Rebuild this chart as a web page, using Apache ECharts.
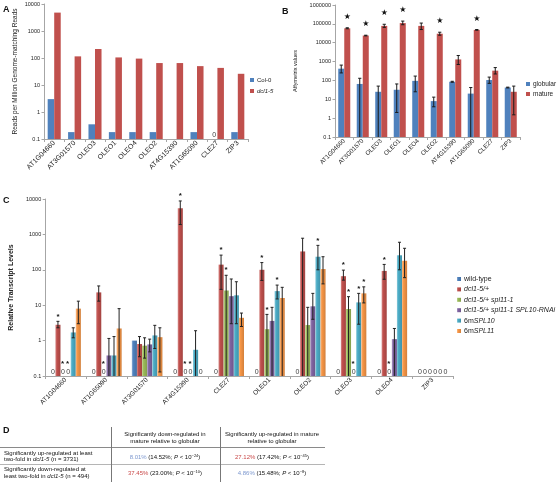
<!DOCTYPE html>
<html><head><meta charset="utf-8">
<script src="https://cdn.jsdelivr.net/npm/echarts@6/dist/echarts.min.js"></script>
<style>html,body{margin:0;padding:0;background:#fff}#c{width:558px;height:487px}</style>
</head><body><div id="c"></div>
<script>
// ---------- Panel A ----------
const catsA = ['AT1G04660','AT3G01570','OLEO3','OLEO1','OLEO4','OLEO2','AT4G15390','AT1G65090','CLE27','ZIP3'];
const col0A = [3, 0.18, 0.35, 0.18, 0.18, 0.18, null, 0.18, 0, 0.18];
const dcl15A = [4800, 115, 215, 105, 95, 65, 65, 50, 43, 26];
const ticksA = [0.1, 1, 10, 100, 1000, 10000];

// ---------- Panel B ----------
const catsB = ['AT1G04660','AT3G01570','OLEO3','OLEO1','OLEO4','OLEO2','AT4G15390','AT1G65090','CLE27','ZIP3'];
const globB   = [420, 65, 25, 32, 95, 8, 85, 20, 105, 42];
const globLoB = [250, 0.1, 0.1, 2, 25, 4, 80, 0.1, 70, 40];
const globHiB = [650, 130, 50, 65, 170, 13, 90, 42, 150, 44];
const matB    = [58000, 24000, 78000, 110000, 78000, 30000, 1300, 48000, 330, 25];
const matLoB  = [55000, 23000, 65000, 90000, 50000, 25000, 700, 46000, 220, 1.5];
const matHiB  = [62000, 25000, 95000, 140000, 110000, 36000, 2100, 50000, 480, 50];
const matStarB = [1, 1, 1, 1, 0, 1, 0, 1, 0, 0];
const ticksB = [0.1, 1, 10, 100, 1000, 10000, 100000, 1000000];

// ---------- Panel C ----------
const catsC = ['AT1G04660','AT1G65090','AT3G01570','AT4G15390','CLE27','OLEO1','OLEO2','OLEO3','OLEO4','ZIP3'];
const namesC = ['wild-type','dcl1-5/+','dcl1-5/+ spl11-1','dcl1-5/+ spl11-1 SPL10-RNAi','6mSPL10','6mSPL11'];
const wtC      = [0, 0, 1.0, 0, 0, 0, 0, 0, 0, 0];
const wtLoC    = [null, null, null, null, null, null, null, null, null, null];
const wtHiC    = [null, null, null, null, null, null, null, null, null, null];
const wtStarC  = [0, 0, 0, 0, 0, 0, 0, 0, 0, 0];
const dclC     = [2.8, 23, 0.8, 5500, 140, 100, 330, 66, 93, 0];
const dclLoC   = [2.3, 13, 0.35, 1900, 28, 50, 0.1, 51, 54, null];
const dclHiC   = [3.5, 35, 1.3, 8800, 260, 160, 780, 98, 142, null];
const dclStarC = [1, 0, 0, 1, 1, 1, 0, 1, 1, 0];
const splC     = [0, 0, 0.72, 0, 26, 2.1, 2.75, 7.8, 0, 0];
const splLoC   = [null, null, 0.32, null, 0.1, 0.1, 0.1, 0.1, null, null];
const splHiC   = [null, null, 1.2, null, 70, 5.5, 8.7, 17.4, null, null];
const splStarC = [1, 1, 0, 1, 1, 1, 0, 1, 1, 0];
const rnaiC     = [0, 0.38, 0.78, 0, 18, 3.6, 9.3, 0, 1.1, 0];
const rnaiLoC   = [null, 0.1, 0.48, null, 3, 0.1, 4, null, 0.1, null];
const rnaiHiC   = [null, 1.15, 1.1, null, 55, 8.7, 21.6, null, 2.2, null];
const rnaiStarC = [1, 0, 0, 1, 0, 0, 0, 1, 0, 0];
const m10C     = [1.7, 0.38, 1.4, 0.55, 19, 25, 234, 12, 257, 0];
const m10LoC   = [1.2, 0.1, 0.6, 0.1, 3, 15, 100, 2.9, 100, null];
const m10HiC   = [2.3, 1.3, 2.7, 1.9, 46, 37, 490, 21.6, 600, null];
const m10StarC = [0, 0, 0, 0, 0, 1, 1, 1, 0, 0];
const m11C     = [8, 2.2, 1.25, 0, 4.4, 16, 105, 21.6, 180, 0];
const m11LoC   = [3, 0.1, 0.13, null, 2.5, 0.1, 40, 11.6, 60, null];
const m11HiC   = [13, 8, 2.3, null, 6, 32, 234, 33, 405, null];
const m11StarC = [0, 0, 0, 0, 0, 0, 0, 1, 0, 0];
const ticksC = [0.1, 1, 10, 100, 1000, 10000];

// ---------- Panel D (table) ----------
const headD = ['Significantly down-regulated in\nmature relative to globular', 'Significantly up-regulated in mature\nrelative to globular'];
const rowsD = [
  ['Significantly up-regulated at least', 'two-fold in ', 'dcl1-5', ' (n = 3731)'],
  ['Significantly down-regulated at', 'least two-fold in ', 'dcl1-5', ' (n = 494)']
];
const cellsD = [
  [['8.01%', 'b', '14.52%', '−24'], ['27.12%', 'r', '17.42%', '−45']],
  [['37.45%', 'r', '23.00%', '−10'], ['4.86%', 'b', '15.48%', '−8']]
];

// ---------- helpers ----------
const FONT = 'Liberation Sans, Arial, sans-serif';
const BLUE = '#4F81BD', RED = '#C0504D', GREEN = '#9BBB59', PURPLE = '#8064A2', AQUA = '#4BACC6', ORANGE = '#F79646';
const colorsC = [BLUE, RED, GREEN, PURPLE, AQUA, ORANGE];
const toBar = arr => arr.map(v => (v != null && v > 0 ? v : '-'));
const logFmt = v => (v < 1 ? String(Math.round(v * 10) / 10) : String(Math.round(v)));
function shade(hex, f) {
  const n = parseInt(hex.slice(1), 16);
  let r = (n >> 16) & 255, g = (n >> 8) & 255, b = n & 255;
  const m = c => Math.max(0, Math.min(255, Math.round(f > 0 ? c + (255 - c) * f : c * (1 + f))));
  return 'rgb(' + m(r) + ',' + m(g) + ',' + m(b) + ')';
}
function grad(hex) {
  return { type: 'linear', x: 0, y: 0, x2: 1, y2: 0, colorStops: [
    { offset: 0, color: shade(hex, 0.35) }, { offset: 0.3, color: hex }, { offset: 1, color: shade(hex, -0.15) }] };
}
function overlayData(series) {
  const out = [];
  series.forEach((s, idx) => {
    s.v.forEach((v, cat) => {
      const lo = s.lo ? s.lo[cat] : null, hi = s.hi ? s.hi[cat] : null;
      out.push([cat, idx, v == null ? -1 : v, lo == null ? -1 : lo, hi == null ? -1 : hi, s.star ? s.star[cat] : 0, 1]);
    });
  });
  return out;
}
function makeOverlay(n, gap, minV, o) {
  return function (params, api) {
    const cat = api.value(0), idx = api.value(1), v = api.value(2), lo = api.value(3), hi = api.value(4), star = api.value(5);
    const band = api.size([1, 1])[0];
    const total = band * (1 - gap);
    const bw = total / n;
    const cx = api.coord([cat, 1])[0] - total / 2 + (idx + 0.5) * bw;
    const yBase = api.coord([cat, minV])[1];
    const ch = [];
    let topY = null;
    const ln = (x1, y1, x2, y2) => ({ type: 'line', shape: { x1, y1, x2, y2 }, style: { stroke: o.errColor, lineWidth: 1 } });
    if (hi > 0 && lo > 0) {
      const yh = api.coord([cat, hi])[1], yl = api.coord([cat, lo])[1];
      ch.push(ln(cx, yh, cx, yl), ln(cx - o.cap, yh, cx + o.cap, yh));
      if (lo > minV) ch.push(ln(cx - o.cap, yl, cx + o.cap, yl));
      topY = yh;
    } else if (v > 0) {
      topY = api.coord([cat, v])[1];
    }
    if (v === 0) {
      ch.push({ type: 'text', style: { text: '0', x: cx, y: yBase - 0.5, fill: '#404040', font: o.zeroFont,
        align: 'center', verticalAlign: 'bottom', textAlign: 'center', textVerticalAlign: 'bottom' } });
      topY = yBase - o.zeroH;
    }
    if (star && topY !== null) {
      ch.push({ type: 'text', style: { text: o.starChar, x: cx + (v === 0 ? -0.5 : 0), y: topY - o.starGap, fill: '#111', font: o.starFont,
        align: 'center', verticalAlign: 'bottom', textAlign: 'center', textVerticalAlign: 'bottom' } });
    }
    return { type: 'group', children: ch };
  };
}
function catAxis(idx, cats, fs) {
  return { type: 'category', gridIndex: idx, data: cats,
    axisLine: { lineStyle: { color: '#a6a6a6', width: 1 } },
    axisTick: { show: true, alignWithLabel: false, length: 3, lineStyle: { color: '#a6a6a6' } },
    axisLabel: { rotate: 45, fontSize: fs, color: '#222', fontFamily: FONT, margin: 3, interval: 0 },
    splitLine: { show: false } };
}
function logAxis(idx, max, name, nameGap, nameFs, bold, split) {
  return { type: 'log', gridIndex: idx, logBase: 10, min: 0.1, max: max, startValue: 0.1, splitNumber: split,
    name: name, nameLocation: 'middle', nameGap: nameGap,
    nameTextStyle: { fontSize: nameFs, fontFamily: FONT, color: '#222', fontWeight: bold ? 'bold' : 'normal' },
    axisLine: { show: true, lineStyle: { color: '#a6a6a6', width: 1 } },
    axisTick: { show: true, length: 2.5, lineStyle: { color: '#a6a6a6' } },
    minorTick: { show: false },
    axisLabel: { fontSize: 5.5, color: '#222', fontFamily: FONT, margin: 4, formatter: logFmt },
    splitLine: { show: false } };
}

const seriesCDef = [
  { v: wtC, lo: wtLoC, hi: wtHiC, star: wtStarC },
  { v: dclC, lo: dclLoC, hi: dclHiC, star: dclStarC },
  { v: splC, lo: splLoC, hi: splHiC, star: splStarC },
  { v: rnaiC, lo: rnaiLoC, hi: rnaiHiC, star: rnaiStarC },
  { v: m10C, lo: m10LoC, hi: m10HiC, star: m10StarC },
  { v: m11C, lo: m11LoC, hi: m11HiC, star: m11StarC }
];

const gapA = 0.36, gapB = 0.35, gapC = 0.25;

const series = [
  { name: 'Col-0', type: 'bar', xAxisIndex: 0, yAxisIndex: 0, data: toBar(col0A), barGap: '0%', barCategoryGap: (gapA * 100) + '%', itemStyle: { color: BLUE } },
  { name: 'dcl1-5', type: 'bar', xAxisIndex: 0, yAxisIndex: 0, data: toBar(dcl15A), barGap: '0%', barCategoryGap: (gapA * 100) + '%', itemStyle: { color: RED } },
  { type: 'custom', xAxisIndex: 0, yAxisIndex: 0, encode: { x: 0, y: 6 }, silent: true, z: 5,
    data: overlayData([{ v: col0A }, { v: dcl15A }]),
    renderItem: makeOverlay(2, gapA, 0.1, { cap: 2, errColor: '#222', zeroFont: '7px ' + FONT, zeroH: 8, starChar: '*', starGap: 2, starFont: '7px ' + FONT }) },

  { name: 'globular', type: 'bar', xAxisIndex: 1, yAxisIndex: 1, data: toBar(globB), barGap: '0%', barCategoryGap: (gapB * 100) + '%', itemStyle: { color: BLUE } },
  { name: 'mature', type: 'bar', xAxisIndex: 1, yAxisIndex: 1, data: toBar(matB), barGap: '0%', barCategoryGap: (gapB * 100) + '%', itemStyle: { color: RED } },
  { type: 'custom', xAxisIndex: 1, yAxisIndex: 1, encode: { x: 0, y: 6 }, silent: true, z: 5,
    data: overlayData([{ v: globB, lo: globLoB, hi: globHiB }, { v: matB, lo: matLoB, hi: matHiB, star: matStarB }]),
    renderItem: makeOverlay(2, gapB, 0.1, { cap: 1.6, errColor: '#1a1a1a', zeroFont: '7px ' + FONT, zeroH: 8, starChar: '★', starGap: 7, starFont: '8px DejaVu Sans, sans-serif' }) }
];
namesC.forEach((nm, i) => {
  series.push({ name: nm, type: 'bar', xAxisIndex: 2, yAxisIndex: 2, data: toBar(seriesCDef[i].v), barGap: '0%',
    barCategoryGap: (gapC * 100) + '%', itemStyle: { color: grad(colorsC[i]) } });
});
series.push({ type: 'custom', xAxisIndex: 2, yAxisIndex: 2, encode: { x: 0, y: 6 }, silent: true, z: 5,
  data: overlayData(seriesCDef),
  renderItem: makeOverlay(6, gapC, 0.1, { cap: 1.5, errColor: '#222', zeroFont: '7px ' + FONT, zeroH: 7, starChar: '*', starGap: 1, starFont: 'bold 8px ' + FONT }) });

function richLeg(fs) {
  return { i: { fontStyle: 'italic', fontFamily: FONT, fontSize: fs, color: '#222' }, n: { fontFamily: FONT, fontSize: fs, color: '#222' } };
}
const fmtC = { 'wild-type': '{n|wild-type}', 'dcl1-5/+': '{i|dcl1-5/+}', 'dcl1-5/+ spl11-1': '{i|dcl1-5/+ spl11-1}',
  'dcl1-5/+ spl11-1 SPL10-RNAi': '{i|dcl1-5/+ spl11-1 SPL10-RNAi}', '6mSPL10': '{n|6m}{i|SPL10}', '6mSPL11': '{n|6m}{i|SPL11}',
  'Col-0': '{n|Col-0}', 'dcl1-5': '{i|dcl1-5}', 'globular': '{n|globular}', 'mature': '{n|mature}' };
function legend(names, left, top, gap, fs) {
  return { data: names.map(n => ({ name: n, icon: 'rect' })), orient: 'vertical', left: left, top: top, itemWidth: 4, itemHeight: 4,
    itemGap: gap, padding: 0, selectedMode: false,
    formatter: n => fmtC[n], textStyle: { fontSize: fs, lineHeight: 8, padding: [0, 0, 0, -2], rich: richLeg(fs) } };
}

// panel letters + table graphics
const TF = 6;
const g = [];
const txt = (x, y, text, extra) => g.push(Object.assign({ type: 'text', x: x, y: y, style: Object.assign({ text: text, fill: '#111', font: TF + 'px ' + FONT, align: 'left', verticalAlign: 'middle' }, extra || {}) }));
txt(3, 10, 'A', { font: 'bold 9px ' + FONT });
txt(282, 12, 'B', { font: 'bold 9px ' + FONT });
txt(3, 201, 'C', { font: 'bold 9px ' + FONT });
txt(3, 431, 'D', { font: 'bold 9px ' + FONT });
const colX = [4, 165, 272];
headD.forEach((h, i) => {
  h.split('\n').forEach((line, j) => txt(colX[i + 1], 434 + j * 7, line, { align: 'center' }));
});
const richT = {
  i: { fontStyle: 'italic', fontSize: TF, fontFamily: FONT, fill: '#111' },
  b: { fontSize: TF, fontFamily: FONT, fill: '#7d98cf' },
  r: { fontSize: TF, fontFamily: FONT, fill: '#c94a4a' },
  s: { fontSize: 4, fontFamily: FONT, fill: '#111', padding: [0, 0, 3, 0] }
};
rowsD.forEach((r, k) => {
  const y0 = 453 + k * 16.5;
  txt(colX[0], y0, r[0]);
  g.push({ type: 'text', x: colX[0], y: y0 + 6.5, style: { text: r[1] + '{i|' + r[2] + '}' + r[3], fill: '#111', font: TF + 'px ' + FONT,
    align: 'left', verticalAlign: 'middle', rich: richT } });
  cellsD[k].forEach((c, j) => {
    g.push({ type: 'text', x: colX[j + 1], y: y0 + 4, style: { text: '{' + c[1] + '|' + c[0] + '} (' + c[2] + '; {i|P} < 10{s|' + c[3] + '})',
      fill: '#111', font: TF + 'px ' + FONT, align: 'center', verticalAlign: 'middle', rich: richT } });
  });
});
const hl = (x1, y1, x2, y2, c) => g.push({ type: 'line', shape: { x1, y1, x2, y2 }, style: { stroke: c, lineWidth: 1 } });
hl(0, 447.5, 325, 447.5, '#8a8a8a');
hl(0, 464.5, 325, 464.5, '#b5b5b5');
hl(111.5, 427, 111.5, 482, '#777');
hl(220.5, 427, 220.5, 482, '#777');

const option = {
  animation: false,
  backgroundColor: '#fff',
  textStyle: { fontFamily: FONT },
  grid: [
    { left: 44, top: 4, width: 204, height: 135 },
    { left: 335, top: 5, width: 185, height: 132 },
    { left: 34, top: 199, width: 419, height: 177 }
  ],
  xAxis: [catAxis(0, catsA, 7), catAxis(1, catsB, 6.2), catAxis(2, catsC, 6.5)],
  yAxis: [
    logAxis(0, 10000, 'Reads per Million Genome-matching Reads', 25, 6.5, false, 5),
    logAxis(1, 1000000, 'Affymetrix values', 37, 5.5, false, 7),
    logAxis(2, 10000, 'Relative Transcript Levels', 18, 7, true, 5)
  ],
  legend: [
    legend(['Col-0', 'dcl1-5'], 250, 76, 3, 6),
    legend(['globular', 'mature'], 526, 80, 2, 6.5),
    legend(namesC, 457, 275, 2.4, 7)
  ],
  graphic: g,
  series: series
};
const chart = echarts.init(document.getElementById('c'), null, { renderer: 'canvas' });
chart.setOption(option);
</script></body></html>
